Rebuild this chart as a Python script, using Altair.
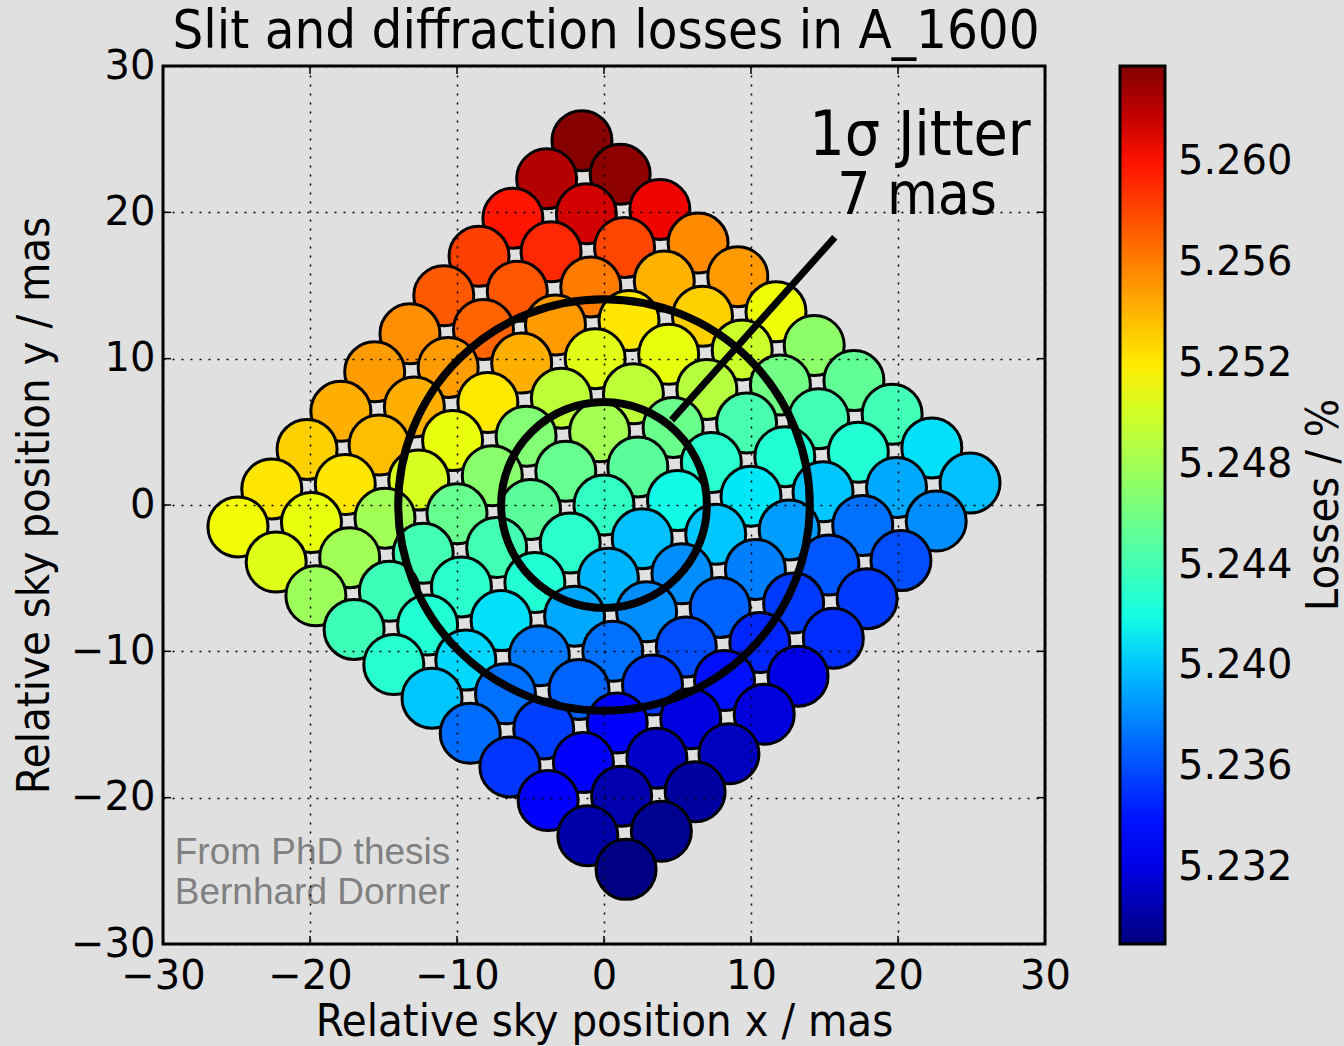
import altair as alt
import pandas as pd

# ---- data (11 x 11 dither grid, rows along the down-right direction) ----
x_rows = [
    [-1.5, 1.1, 3.8, 6.4, 9.1, 11.7, 14.3, 17.0, 19.6, 22.3, 24.9],
    [-3.9, -1.2, 1.4, 4.1, 6.7, 9.4, 12.0, 14.6, 17.3, 19.9, 22.6],
    [-6.2, -3.6, -0.9, 1.7, 4.4, 7.0, 9.7, 12.3, 14.9, 17.6, 20.2],
    [-8.5, -5.9, -3.3, -0.6, 2.0, 4.7, 7.3, 10.0, 12.6, 15.3, 17.9],
    [-10.9, -8.2, -5.6, -2.9, -0.3, 2.3, 5.0, 7.6, 10.3, 12.9, 15.6],
    [-13.2, -10.6, -7.9, -5.3, -2.6, 0.0, 2.6, 5.3, 7.9, 10.6, 13.2],
    [-15.6, -12.9, -10.3, -7.6, -5.0, -2.3, 0.3, 2.9, 5.6, 8.2, 10.9],
    [-17.9, -15.3, -12.6, -10.0, -7.3, -4.7, -2.0, 0.6, 3.3, 5.9, 8.5],
    [-20.2, -17.6, -14.9, -12.3, -9.7, -7.0, -4.4, -1.7, 0.9, 3.6, 6.2],
    [-22.6, -19.9, -17.3, -14.6, -12.0, -9.4, -6.7, -4.1, -1.4, 1.2, 3.9],
    [-24.9, -22.3, -19.6, -17.0, -14.3, -11.7, -9.1, -6.4, -3.8, -1.1, 1.5],
]
y_rows = [
    [24.9, 22.6, 20.2, 17.9, 15.6, 13.2, 10.9, 8.5, 6.2, 3.9, 1.5],
    [22.3, 19.9, 17.6, 15.3, 12.9, 10.6, 8.2, 5.9, 3.6, 1.2, -1.1],
    [19.6, 17.3, 14.9, 12.6, 10.3, 7.9, 5.6, 3.3, 0.9, -1.4, -3.8],
    [17.0, 14.6, 12.3, 10.0, 7.6, 5.3, 2.9, 0.6, -1.7, -4.1, -6.4],
    [14.3, 12.0, 9.7, 7.3, 5.0, 2.6, 0.3, -2.0, -4.4, -6.7, -9.1],
    [11.7, 9.4, 7.0, 4.7, 2.3, 0.0, -2.3, -4.7, -7.0, -9.4, -11.7],
    [9.1, 6.7, 4.4, 2.0, -0.3, -2.6, -5.0, -7.3, -9.7, -12.0, -14.3],
    [6.4, 4.1, 1.7, -0.6, -2.9, -5.3, -7.6, -10.0, -12.3, -14.6, -17.0],
    [3.8, 1.4, -0.9, -3.3, -5.6, -7.9, -10.3, -12.6, -14.9, -17.3, -19.6],
    [1.1, -1.2, -3.6, -5.9, -8.2, -10.6, -12.9, -15.3, -17.6, -19.9, -22.3],
    [-1.5, -3.9, -6.2, -8.5, -10.9, -13.2, -15.6, -17.9, -20.2, -22.6, -24.9],
]
loss_rows = [
    [5.2636, 5.2634, 5.2605, 5.2556, 5.2550, 5.2513, 5.2472, 5.2453, 5.2439, 5.2410, 5.2399],
    [5.2622, 5.2613, 5.2581, 5.2541, 5.2530, 5.2498, 5.2460, 5.2440, 5.2426, 5.2391, 5.2382],
    [5.2599, 5.2592, 5.2561, 5.2522, 5.2510, 5.2489, 5.2442, 5.2426, 5.2401, 5.2372, 5.2360],
    [5.2583, 5.2575, 5.2550, 5.2507, 5.2492, 5.2457, 5.2429, 5.2412, 5.2387, 5.2363, 5.2353],
    [5.2574, 5.2570, 5.2542, 5.2492, 5.2481, 5.2450, 5.2419, 5.2401, 5.2377, 5.2353, 5.2349],
    [5.2554, 5.2549, 5.2521, 5.2467, 5.2455, 5.2433, 5.2399, 5.2382, 5.2367, 5.2346, 5.2321],
    [5.2549, 5.2542, 5.2511, 5.2470, 5.2450, 5.2430, 5.2396, 5.2382, 5.2360, 5.2339, 5.2318],
    [5.2542, 5.2537, 5.2503, 5.2455, 5.2440, 5.2426, 5.2391, 5.2372, 5.2352, 5.2319, 5.2309],
    [5.2530, 5.2522, 5.2480, 5.2440, 5.2430, 5.2410, 5.2375, 5.2367, 5.2328, 5.2311, 5.2300],
    [5.2522, 5.2510, 5.2480, 5.2438, 5.2426, 5.2407, 5.2372, 5.2355, 5.2327, 5.2304, 5.2295],
    [5.2514, 5.2506, 5.2478, 5.2438, 5.2428, 5.2401, 5.2370, 5.2352, 5.2327, 5.2302, 5.2291],
]

axis_ticks = [-30, -20, -10, 0, 10, 20, 30]
colorbar_ticks = [5.232, 5.236, 5.240, 5.244, 5.248, 5.252, 5.256, 5.260]
loss_min, loss_max = 5.2290, 5.2638

jitter_radii = [7, 14]                 # 1 sigma and 2 sigma circles (mas)
jitter_label = ["1σ Jitter", "7 mas"]
credit_lines = ["From PhD thesis", "Bernhard Dorner"]
chart_title = "Slit and diffraction losses in A_1600"
colorbar_title = "Losses / %"

# ---- styling ----
W, H = 882, 878
BG = "#e0e0e0"
COND = "DejaVu Sans Condensed"
SANS = "DejaVu Sans"
CB_X = 957          # colour bar left edge, relative to the plot's left edge
CB_W = 45
TICK = 8

# matplotlib "jet" colormap stops
jet = [(0.0, "#000080"), (0.11, "#0000ff"), (0.125, "#0000ff"), (0.34, "#00dbff"),
       (0.35, "#00e6f7"), (0.375, "#15ffe2"), (0.64, "#eeff08"), (0.65, "#f7f600"),
       (0.66, "#ffec00"), (0.89, "#ff1300"), (0.91, "#e80000"), (1.0, "#800000")]
jet_domain = [loss_min + t * (loss_max - loss_min) for t, _ in jet]
jet_range = [c for _, c in jet]

rows = []
for j in range(11):
    for i in range(11):
        rows.append({"x": x_rows[j][i], "y": y_rows[j][i], "loss": loss_rows[j][i], "k": j * 11 + i})
df = pd.DataFrame(rows)

xscale = alt.Scale(domain=[-30, 30], nice=False, zero=False)
yscale = alt.Scale(domain=[-30, 30], nice=False, zero=False)

xaxis = alt.Axis(values=axis_ticks, title="Relative sky position x / mas", grid=True,
                 gridDash=[2, 7], gridColor="black", gridWidth=1.5, gridOpacity=1,
                 ticks=False, domain=False, labelFontSize=40, labelFont=SANS, labelColor="black",
                 labelPadding=12, labelFlush=False, zindex=1,
                 titleFont=COND, titleFontSize=45, titleFontWeight="normal", titleColor="black",
                 titleX=W / 2, titleY=91, titleBaseline="alphabetic", titleAlign="center")
yaxis = alt.Axis(values=axis_ticks, title="Relative sky position y / mas", grid=True,
                 gridDash=[2, 7], gridColor="black", gridWidth=1.5, gridOpacity=1,
                 ticks=False, domain=False, labelFontSize=40, labelFont=SANS, labelColor="black",
                 labelPadding=8, labelFlush=False, zindex=1,
                 titleFont=COND, titleFontSize=45, titleFontWeight="normal", titleColor="black",
                 titleX=-115, titleY=H / 2, titleAngle=270, titleBaseline="alphabetic",
                 titleAlign="center")

points = alt.Chart(df).mark_circle(size=3600, stroke="black", strokeWidth=3, opacity=1).encode(
    x=alt.X("x:Q", scale=xscale, axis=xaxis),
    y=alt.Y("y:Q", scale=yscale, axis=yaxis),
    color=alt.Color("loss:Q",
                    scale=alt.Scale(domain=jet_domain, range=jet_range, interpolate="rgb"),
                    legend=alt.Legend(
                        orient="none", legendX=CB_X, legendY=0, direction="vertical",
                        gradientLength=H, gradientThickness=CB_W,
                        gradientStrokeColor="black", gradientStrokeWidth=3,
                        values=colorbar_ticks, format=".3f", labelOverlap=False,
                        labelFontSize=40, labelFont=SANS, labelColor="black", labelOffset=13,
                        title=None)),
    order=alt.Order("k:Q"),
)

# symbol size is the area of the bounding square -> (diameter in px)^2
px_per_mas = W / 60.0
rings = pd.DataFrame({"x": [0.0, 0.0], "y": [0.0, 0.0], "r": jitter_radii})
rings["size"] = [(2 * r * px_per_mas) ** 2 for r in jitter_radii]
ring_layer = alt.Chart(rings).mark_point(shape="circle", filled=False, stroke="black",
                                          strokeWidth=8, opacity=1).encode(
    x="x:Q", y="y:Q", size=alt.Size("size:Q", scale=None, legend=None))

pointer = pd.DataFrame({"x": [4.6], "y": [5.8], "x2": [15.7], "y2": [18.3]})
pointer_layer = alt.Chart(pointer).mark_rule(color="black", strokeWidth=7).encode(
    x="x:Q", y="y:Q", x2="x2:Q", y2="y2:Q")

jit_df = pd.DataFrame({"x": [21.5, 21.3], "y": [23.9, 19.9], "t": jitter_label, "fs": [62, 58]})
jit_layer = alt.Chart(jit_df).mark_text(font=COND, color="black", align="center",
                                         baseline="alphabetic").encode(
    x="x:Q", y="y:Q", text="t:N", size=alt.Size("fs:Q", scale=None, legend=None))

credit_df = pd.DataFrame({"x": [-29.2, -29.2], "y": [-24.5, -27.3], "t": credit_lines})
credit_layer = alt.Chart(credit_df).mark_text(font="Liberation Sans", fontSize=37, color="#808080",
                                               align="left", baseline="alphabetic").encode(
    x="x:Q", y="y:Q", text="t:N")

cbar_title = alt.Chart(pd.DataFrame({"t": [colorbar_title]})).mark_text(
    font=COND, fontSize=45, color="black", angle=270, align="center", baseline="alphabetic"
).encode(x=alt.value(1338 - 163), y=alt.value(H / 2), text="t:N")

title_layer = alt.Chart(pd.DataFrame({"t": [chart_title]})).mark_text(
    font=COND, fontSize=54, color="black", align="center", baseline="alphabetic"
).encode(x=alt.value(W / 2 + 2), y=alt.value(-18), text="t:N")

# inward frame ticks on all four sides (matplotlib style)
tick_df = pd.DataFrame({"t": axis_ticks})
tick_style = dict(color="black", strokeWidth=1.5)
t_bottom = alt.Chart(tick_df).mark_rule(**tick_style).encode(
    x="t:Q", y=alt.value(H), y2=alt.value(H - TICK))
t_top = alt.Chart(tick_df).mark_rule(**tick_style).encode(
    x="t:Q", y=alt.value(0), y2=alt.value(TICK))
t_left = alt.Chart(tick_df).mark_rule(**tick_style).encode(
    y="t:Q", x=alt.value(0), x2=alt.value(TICK))
t_right = alt.Chart(tick_df).mark_rule(**tick_style).encode(
    y="t:Q", x=alt.value(W), x2=alt.value(W - TICK))

main = alt.layer(points, ring_layer, pointer_layer, jit_layer, credit_layer, cbar_title,
                 title_layer, t_bottom, t_top, t_left, t_right)

# colour-bar tick marks, placed through a scale of the loss values
cb_ticks = alt.Chart(pd.DataFrame({"v": colorbar_ticks})).mark_rule(
    color="black", strokeWidth=2).encode(
    y=alt.Y("v:Q", scale=alt.Scale(domain=[loss_min, loss_max], nice=False, zero=False),
            axis=None),
    x=alt.value(CB_X + CB_W - 12), x2=alt.value(CB_X + CB_W - 1))

chart = alt.layer(main, cb_ticks).resolve_scale(y="independent").properties(
    width=W, height=H,
    autosize=alt.AutoSizeParams(type="none"),
    padding={"left": 163, "top": 66, "right": 299, "bottom": 102},
    background=BG,
).configure_view(stroke="black", strokeWidth=3, fill=BG)

chart.save("out.html", embed_options={"renderer": "svg", "actions": False})
